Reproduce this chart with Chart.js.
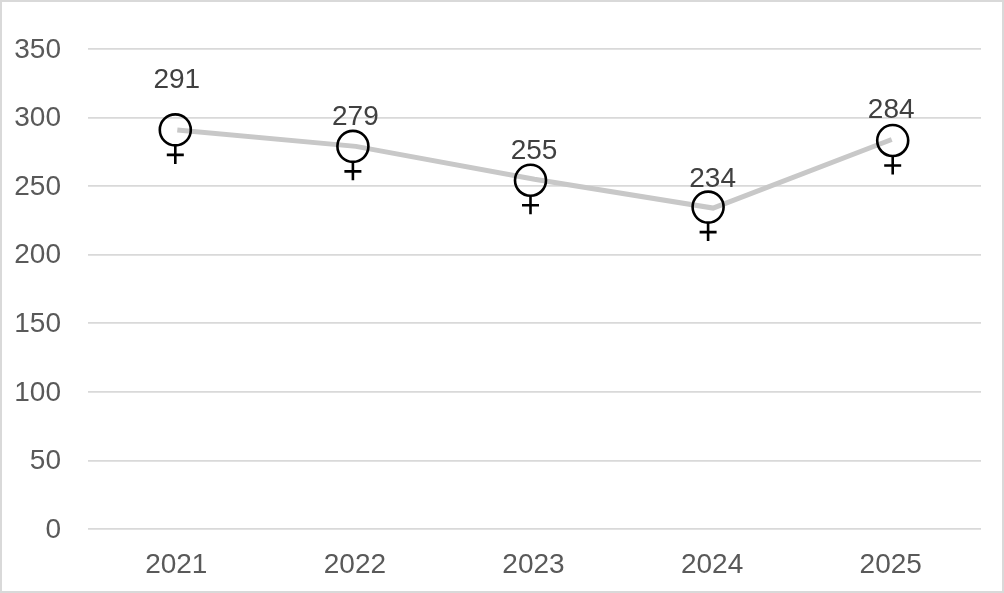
<!DOCTYPE html>
<html><head><meta charset="utf-8">
<style>html,body{margin:0;padding:0;background:#fff}#w{position:relative;width:1004px;height:593px;overflow:hidden}#b{position:absolute;left:0;top:0;width:1004px;height:593px;box-sizing:border-box;border:2px solid #d9d9d9;pointer-events:none}canvas{position:absolute;left:0;top:0}</style>
<script src="https://cdn.jsdelivr.net/npm/chart.js@4"></script></head>
<body><div id="w"><canvas id="c" width="1004" height="593"></canvas><div id="b"></div></div>
<script>
const years=['2021','2022','2023','2024','2025'];
const values=[291,279,255,234,284];
const yTicks=[0,50,100,150,200,250,300,350];
const markerShiftX=[-2,-3,-4,-5,1];
const markerShiftY=[0,0,1,-1,1];
const labelRise=[42,21,20,21,22];
const FONT='"Liberation Sans", Arial, sans-serif';
const plug={id:'lab',afterDatasetsDraw(ch){
 const c=ch.ctx,m=ch.getDatasetMeta(0);
 m.data.forEach((p,i)=>{
  const x=p.x+markerShiftX[i],y=p.y+markerShiftY[i];
  c.save();
  c.strokeStyle='#000';c.lineWidth=2.6;
  c.beginPath();c.arc(x,y,15.5,0,Math.PI*2);c.stroke();
  c.beginPath();c.moveTo(x,y+16);c.lineTo(x,y+34);
  c.moveTo(x-8.5,y+25);c.lineTo(x+8.5,y+25);c.stroke();
  c.fillStyle='#404040';c.font='28px '+FONT;c.textAlign='center';c.textBaseline='alphabetic';
  c.fillText(String(values[i]),p.x-0.5,p.y-labelRise[i]);
  c.restore();
 });
}};
new Chart(document.getElementById('c'),{type:'line',
 data:{labels:years,datasets:[{data:values,borderColor:'#c8c8c8',borderWidth:5,pointRadius:0,tension:0,fill:false}]},
 options:{responsive:false,animation:false,
  layout:{padding:{left:0,right:23,top:49,bottom:0}},
  plugins:{legend:{display:false},tooltip:{enabled:false}},
  scales:{
   x:{offset:true,grid:{display:false},border:{display:false},afterFit(a){a.height=64},ticks:{color:'#595959',font:{family:FONT,size:28},padding:11,maxRotation:0,labelOffset:-1}},
   y:{min:0,max:350,afterBuildTicks(a){a.ticks=yTicks.map(v=>({value:v}))},grid:{color:'#d9d9d9',lineWidth:1.7,drawTicks:false},border:{display:false},
      afterFit(a){a.width=88},ticks:{color:'#595959',font:{family:FONT,size:28},padding:27,labelOffset:1}}
  }},
 plugins:[plug]});
</script></body></html>
